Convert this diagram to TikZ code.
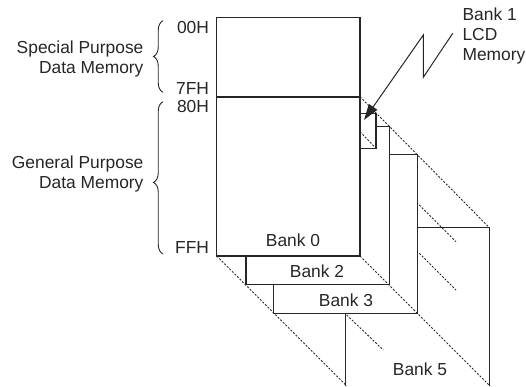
\documentclass[tikz,border=0pt]{standalone}
\usepackage{fontspec}
\setmainfont{Liberation Sans}
\usetikzlibrary{decorations.pathreplacing,arrows.meta}
\definecolor{ink}{rgb}{0.15,0.15,0.15}
\begin{document}
\begin{tikzpicture}[x=1pt,y=-1pt, line width=1.1pt, draw=ink,
  lbl/.style={font=\fontsize{17.4}{20}\selectfont, text=ink, inner sep=0pt},
  hid/.style={dash pattern=on 2pt off 1.6pt, line width=0.9pt},
  brc/.style={decorate, line width=0.9pt, decoration={brace, amplitude=9.5pt}}]
\useasboundingbox (0,0) rectangle (526,386);
% corners
\coordinate (b0tl) at (216.7,17.3);
\coordinate (b0br) at (360,256);
\coordinate (b0bl) at (216.7,256);
\coordinate (b0dl) at (216.7,96.7);
\coordinate (b0dr) at (360,96.7);
% Bank 0
\draw (b0tl) rectangle (b0br);
\draw[line width=1.9pt] (b0dl) -- (b0dr);
% Bank 1
\coordinate (b1a) at (360,113.3);
\coordinate (b1b) at (376,113.3);
\coordinate (b1c) at (376,148.3);
\coordinate (b1d) at (360,148.3);
\draw (b1a) -- (b1b) -- (b1c) -- (b1d);
% Bank 2
\coordinate (b2a) at (376,126.3);
\coordinate (b2b) at (389.5,126.3);
\coordinate (b2c) at (389.5,284.8);
\coordinate (b2d) at (246,284.8);
\coordinate (b2e) at (246,256);
\draw (b2a) -- (b2b) -- (b2c) -- (b2d) -- (b2e);
% Bank 3
\coordinate (b3a) at (389.5,154.8);
\coordinate (b3b) at (417.5,154.8);
\coordinate (b3c) at (417.5,313.3);
\coordinate (b3d) at (273.5,313.3);
\coordinate (b3e) at (273.5,284.8);
\draw (b3a) -- (b3b) -- (b3c) -- (b3d) -- (b3e);
% Bank 5
\coordinate (b5a) at (417.5,227.8);
\coordinate (b5b) at (489.5,227.8);
\coordinate (b5c) at (489.5,386);
\coordinate (b5d) at (345.5,313.3);
\coordinate (b5e) at (345.5,386);
\draw (b5a) -- (b5b) -- (b5c);
\draw (b5d) -- (b5e);
% hidden depth edges
\coordinate (h1) at (490,386);
\coordinate (h2) at (346.7,386);
\coordinate (h3) at (360,131.7);
\coordinate (s1a) at (419.3,205);   \coordinate (s1b) at (456,241.7);
\coordinate (s2a) at (419.3,253.3); \coordinate (s2b) at (456,290);
\coordinate (s3a) at (346.7,315);   \coordinate (s3b) at (383.3,350);
\draw[hid] (b0dr) -- (b5b);
\draw[hid] (b0br) -- (h1);
\draw[hid] (b0bl) -- (h2);
\draw[hid] (h3) -- (b1c);
\draw[hid] (s1a) -- (s1b);
\draw[hid] (s2a) -- (s2b);
\draw[hid] (s3a) -- (s3b);
% leader arrow
\coordinate (z0) at (452.7,33.3);
\coordinate (z1) at (423.3,77.3);
\coordinate (z2) at (423.3,35);
\coordinate (tip) at (364,120);
\draw[line width=1pt, -{Triangle[length=16pt,width=10pt]}] (z0) -- (z1) -- (z2) -- (tip);
% braces
\coordinate (br1s) at (163,92.3);  \coordinate (br1e) at (163,20.7);
\coordinate (br2s) at (163,254);   \coordinate (br2e) at (163,101.7);
\draw[brc] (br1s) -- (br1e);
\draw[brc, decoration={brace, amplitude=9.5pt, aspect=0.47}] (br2s) -- (br2e);
% labels
\node[lbl, anchor=base east] (sp1) at (144,53.3) {Special Purpose};
\node[lbl, anchor=base east] (sp2) at (144,73.3) {Data Memory};
\node[lbl, anchor=base east] (gp1) at (144,168.3) {General Purpose};
\node[lbl, anchor=base east] (gp2) at (144,188.3) {Data Memory};
\node[lbl, anchor=base east] (h00) at (209.5,33.3) {00H};
\node[lbl, anchor=base east] (h7f) at (209.5,94) {7FH};
\node[lbl, anchor=base east] (h80) at (209.5,112.8) {80H};
\node[lbl, anchor=base east] (hff) at (209.5,253.3) {FFH};
\node[lbl, anchor=base west] (l1) at (462,20.5) {Bank 1};
\node[lbl, anchor=base west] (l2) at (462,40.5) {LCD};
\node[lbl, anchor=base west] (l3) at (462,60.5) {Memory};
\node[lbl, anchor=base] (k0) at (293,246.7) {Bank 0};
\node[lbl, anchor=base] (k2) at (317,277.3) {Bank 2};
\node[lbl, anchor=base] (k3) at (346,306.7) {Bank 3};
\node[lbl, anchor=base] (k5) at (420,375) {Bank 5};
\end{tikzpicture}
\end{document}
